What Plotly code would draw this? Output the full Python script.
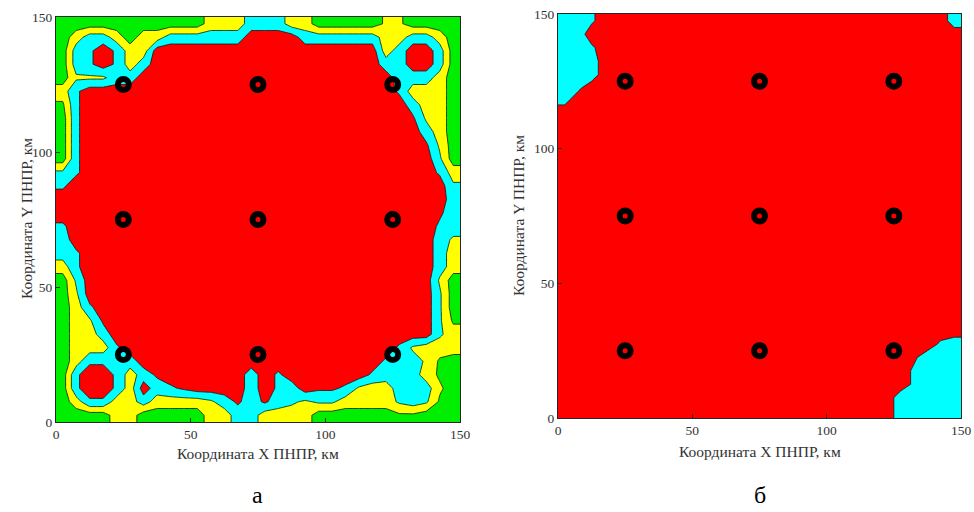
import numpy as np
import plotly.graph_objects as go

# Field value in each 5 km cell, top row (y 145-150) first, x from 0 to 150.
# 0 - green, 3 - yellow, 6 - cyan, 9 - red (intermediate digits move the borders)
rows_a = [
    "000000000003336663300000220000",
    "036630336666669999666666336630",
    "067973399999999999999999369960",
    "067973699999999999999999669960",
    "044466999999999999999999966630",
    "379999999999999999999999973330",
    "179999999999999999999999996330",
    "079999999999999999999999998430",
    "079999999999999999999999999630",
    "079999999999999999999999999840",
    "079999999999999999999999999950",
    "579999999999999999999999999973",
    "799999999999999999999999999995",
    "999999999999999999999999999996",
    "999999999999999999999999999986",
    "799999999999999999999999999976",
    "699999999999999999999999999964",
    "679999999999999999999999999963",
    "379999999999999999999999999963",
    "059999999999999999999999999940",
    "049999999999999999999999999950",
    "037999999999999999999999999950",
    "034899999999999999999999999951",
    "033699999999999999999999999953",
    "033379999999999999999999974333",
    "037766999999999999999999766410",
    "079973689999996979999997666310",
    "079973967899996976988743366620",
    "037733633334686865455333356510",
    "000033000003366333300000011000",
]

rows_b = [
    "667999999999999999999999999996",
    "669999999999999999999999999999",
    "667999999999999999999999999999",
    "666999999999999999999999999999",
    "666999999999999999999999999999",
    "679999999999999999999999999999",
    "799999999999999999999999999999",
    "999999999999999999999999999999",
    "999999999999999999999999999999",
    "999999999999999999999999999999",
    "999999999999999999999999999999",
    "999999999999999999999999999999",
    "999999999999999999999999999999",
    "999999999999999999999999999999",
    "999999999999999999999999999999",
    "999999999999999999999999999999",
    "999999999999999999999999999999",
    "999999999999999999999999999999",
    "999999999999999999999999999999",
    "999999999999999999999999999999",
    "999999999999999999999999999999",
    "999999999999999999999999999999",
    "999999999999999999999999999999",
    "999999999999999999999999999999",
    "999999999999999999999999999976",
    "999999999999999999999999998666",
    "999999999999999999999999997666",
    "999999999999999999999999997666",
    "999999999999999999999999966666",
    "999999999999999999999999966666",
]

cell_centers = [2.5 + 5 * i for i in range(30)]
station_x = [25, 75, 125]
station_y = [25, 75, 125]
tick_vals = [0, 50, 100, 150]
zone_colors = ["#00ee00", "#ffff00", "#00ffff", "#ff0000"]

nodes = [0] + cell_centers + [150]


def field(rows):
    z = np.array([[int(ch) for ch in row] for row in rows[::-1]], dtype=float)
    z = np.hstack([z[:, :1], z, z[:, -1:]])
    z = np.vstack([z[:1], z, z[-1:]])
    return z


serif = "Liberation Serif"
cscale = [[0, zone_colors[0]], [1 / 3, zone_colors[1]], [2 / 3, zone_colors[2]], [1, zone_colors[3]]]

fig = go.Figure()
for k, rows in enumerate([rows_a, rows_b]):
    xa = "x" if k == 0 else "x2"
    ya = "y" if k == 0 else "y2"
    fig.add_trace(go.Contour(
        x=nodes, y=nodes, z=field(rows), zmin=0, zmax=9, autocontour=False,
        contours=dict(start=1.5, end=7.5, size=3, coloring="fill"),
        colorscale=cscale, showscale=False,
        line=dict(color="#111111", width=0.8, smoothing=0),
        hoverinfo="skip", xaxis=xa, yaxis=ya))
    fig.add_trace(go.Scatter(
        x=[sx for sy in station_y for sx in station_x],
        y=[sy for sy in station_y for sx in station_x],
        mode="markers", showlegend=False, hoverinfo="skip",
        marker=dict(symbol="circle-open", size=11, color="black", line=dict(width=6, color="black")),
        xaxis=xa, yaxis=ya))

axis_style = dict(range=[0, 150], tickvals=tick_vals, ticks="inside", ticklen=4,
                  tickcolor="#262626", showline=True, mirror=True, linecolor="#262626",
                  linewidth=1, showgrid=False, zeroline=False, automargin=False,
                  tickfont=dict(family=serif, size=13.5, color="#333333"))

fig.update_layout(
    width=974, height=512, margin=dict(l=0, r=0, t=0, b=0),
    paper_bgcolor="white", plot_bgcolor="white", showlegend=False,
    xaxis=dict(axis_style, domain=[56 / 974, 460 / 974], anchor="y"),
    yaxis=dict(axis_style, domain=[1 - 422 / 512, 1 - 17 / 512], anchor="x"),
    xaxis2=dict(axis_style, domain=[558 / 974, 961 / 974], anchor="y2"),
    yaxis2=dict(axis_style, domain=[1 - 418 / 512, 1 - 14 / 512], anchor="x2"),
)

title_font = dict(family=serif, size=15.5, color="#333333")
notes = [
    ("Координата Y ПНПР, км", 26, 219, -90, title_font),
    ("Координата X ПНПР, км", 258, 453, 0, title_font),
    ("Координата Y ПНПР, км", 518, 216, -90, title_font),
    ("Координата X ПНПР, км", 760, 451, 0, title_font),
    ("а", 257, 495, 0, dict(family=serif, size=24, color="black")),
    ("б", 760, 495, 0, dict(family=serif, size=24, color="black")),
]
for text, px, py, ang, font in notes:
    fig.add_annotation(text=text, x=px / 974, y=1 - py / 512, xref="paper", yref="paper",
                       showarrow=False, textangle=ang, font=font,
                       xanchor="center", yanchor="middle")

fig.write_html("out.html", config={"displayModeBar": False},
               post_script="document.body.style.margin = '0';")
